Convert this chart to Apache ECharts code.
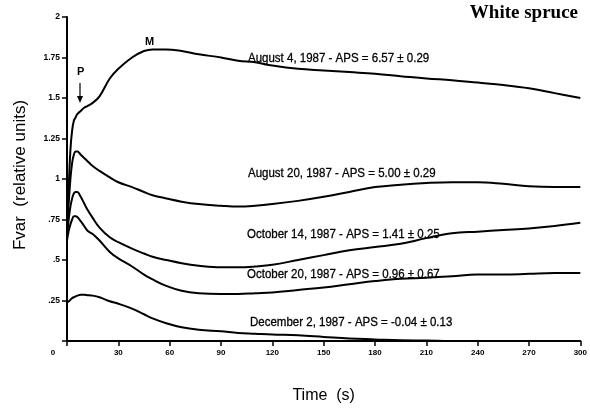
<!DOCTYPE html>
<html>
<head>
<meta charset="utf-8">
<script src="https://cdn.jsdelivr.net/npm/echarts@6/dist/echarts.min.js"></script>
<style>
html,body{margin:0;padding:0;background:#fff;}
#chart{width:590px;height:409px;}
</style>
</head>
<body>
<div id="chart"></div>
<script>
var times = [0,1,2,3,4,5,6,8,10,12,15,19,25,30,38,45,50,58,67,77,90,100,110,120,135,150,165,180,195,210,225,240,255,270,285,300];
var aug4  = [0.68,0.95,1.18,1.30,1.36,1.38,1.40,1.42,1.44,1.45,1.47,1.51,1.62,1.68,1.75,1.79,1.80,1.80,1.79,1.77,1.75,1.73,1.72,1.70,1.68,1.67,1.66,1.65,1.635,1.62,1.61,1.595,1.58,1.56,1.53,1.50];
var aug20 = [0.68,0.85,1.00,1.10,1.15,1.17,1.17,1.15,1.13,1.11,1.08,1.05,1.01,0.98,0.95,0.92,0.90,0.88,0.86,0.845,0.835,0.83,0.835,0.845,0.865,0.89,0.92,0.95,0.965,0.975,0.98,0.98,0.97,0.955,0.95,0.95];
var oct14 = [0.65,0.75,0.83,0.88,0.91,0.92,0.92,0.89,0.85,0.81,0.76,0.70,0.64,0.61,0.57,0.54,0.52,0.50,0.48,0.465,0.455,0.455,0.46,0.47,0.50,0.53,0.56,0.58,0.60,0.635,0.665,0.675,0.685,0.695,0.71,0.73];
var oct20 = [0.62,0.68,0.72,0.75,0.77,0.77,0.765,0.74,0.71,0.68,0.66,0.62,0.55,0.51,0.46,0.41,0.38,0.34,0.31,0.295,0.29,0.29,0.295,0.30,0.315,0.33,0.35,0.37,0.385,0.39,0.40,0.41,0.41,0.415,0.42,0.42];
var dec2  = [0.24,0.245,0.255,0.265,0.27,0.275,0.28,0.285,0.285,0.283,0.28,0.27,0.245,0.23,0.20,0.165,0.14,0.11,0.085,0.07,0.06,0.05,0.045,0.04,0.035,0.025,0.015,0.01,0.005,0.003,0,0,0,0,0,0];
var seriesNames = ['August 4, 1987','August 20, 1987','October 14, 1987','October 20, 1987','December 2, 1987'];
var curveLabels = [
  'August 4, 1987 - APS = 6.57 \u00b1 0.29',
  'August 20, 1987 - APS = 5.00 \u00b1 0.29',
  'October 14, 1987 - APS = 1.41 \u00b1 0.25',
  'October 20, 1987 - APS = 0.96 \u00b1 0.67',
  'December 2, 1987 - APS = -0.04 \u00b1 0.13'
];
var xTickLabels = ['0','30','60','90','120','150','180','210','240','270','300'];
var yTickLabels = ['','.25','.5','.75','1','1.25','1.5','1.75','2'];
var title = 'White spruce';
var xTitle = 'Time  (s)';
var yTitle = 'Fvar  (relative units)';

var allSeries = [aug4, aug20, oct14, oct20, dec2];
function pairs(vals){ return times.map(function(t,i){ return [t, vals[i]]; }); }

var chart = echarts.init(document.getElementById('chart'), null, {renderer:'canvas'});
var labelPos = [[248,58],[248,173],[247,234],[247,274],[250,322]];
var labelFont = '"Liberation Sans", Arial, sans-serif';

var graphics = curveLabels.map(function(txt, i){
  return {type:'text', x: labelPos[i][0], y: labelPos[i][1], scaleX: 0.885,
    style:{text: txt, font: '13px ' + labelFont, fill:'#000', stroke:'#000', lineWidth:0.3,
      textAlign:'left', textVerticalAlign:'middle'}};
});
graphics.push({type:'text', right: 12, top: 4, style:{text: title, font:'bold 19px "Liberation Serif", "DejaVu Serif", serif', fill:'#000'}});
graphics.push({type:'text', left: 145, top: 36, style:{text:'M', font:'bold 11px ' + labelFont, fill:'#000'}});
graphics.push({type:'text', left: 77, top: 66, style:{text:'P', font:'bold 11px ' + labelFont, fill:'#000'}});
graphics.push({type:'line', shape:{x1:80, y1:83, x2:80, y2:100}, style:{stroke:'#000', lineWidth:1.2}});
graphics.push({type:'polygon', shape:{points:[[77,96],[83,96],[80,103]]}, style:{fill:'#000'}});
graphics.push({type:'text', x: 20, y: 175, rotation: Math.PI/2,
  style:{text: yTitle, font:'17px ' + labelFont, fill:'#000', textAlign:'center', textVerticalAlign:'middle'}});

chart.setOption({
  animation:false,
  backgroundColor:'#fff',
  grid:{left:67, right:7, top:17, bottom:66},
  xAxis:{
    type:'value', min:0, max:300, interval:30,
    name: xTitle, nameLocation:'middle', nameGap:47,
    nameTextStyle:{fontSize:16, color:'#000', fontFamily:labelFont},
    axisLine:{show:true, onZero:false, lineStyle:{color:'#000', width:2}},
    axisTick:{show:true, inside:false, length:5, lineStyle:{color:'#000', width:1.5}},
    axisLabel:{color:'#000', fontSize:8, fontWeight:'bold', fontFamily:labelFont, margin:8,
      formatter:function(v){ var s = xTickLabels[Math.round(v/30)]; return v===0 ? '{z|'+s+'}' : s; },
      rich:{z:{fontSize:8, fontWeight:'bold', padding:[0,28,0,0]}}},
    splitLine:{show:false}
  },
  yAxis:{
    type:'value', min:0, max:2, interval:0.25,
    axisLine:{show:true, onZero:false, lineStyle:{color:'#000', width:2}},
    axisTick:{show:true, inside:false, length:5, lineStyle:{color:'#000', width:1.5}},
    axisLabel:{color:'#000', fontSize:8.5, fontWeight:'bold', fontFamily:labelFont, margin:7,
      formatter:function(v){ return yTickLabels[Math.round(v/0.25)]; }},
    splitLine:{show:false}
  },
  series: allSeries.map(function(vals, i){
    return {name: seriesNames[i], type:'line', data: pairs(vals), smooth:0.4, showSymbol:false,
      lineStyle:{color:'#000', width:2}, itemStyle:{color:'#000'}};
  }),
  graphic: graphics
});
</script>
</body>
</html>
